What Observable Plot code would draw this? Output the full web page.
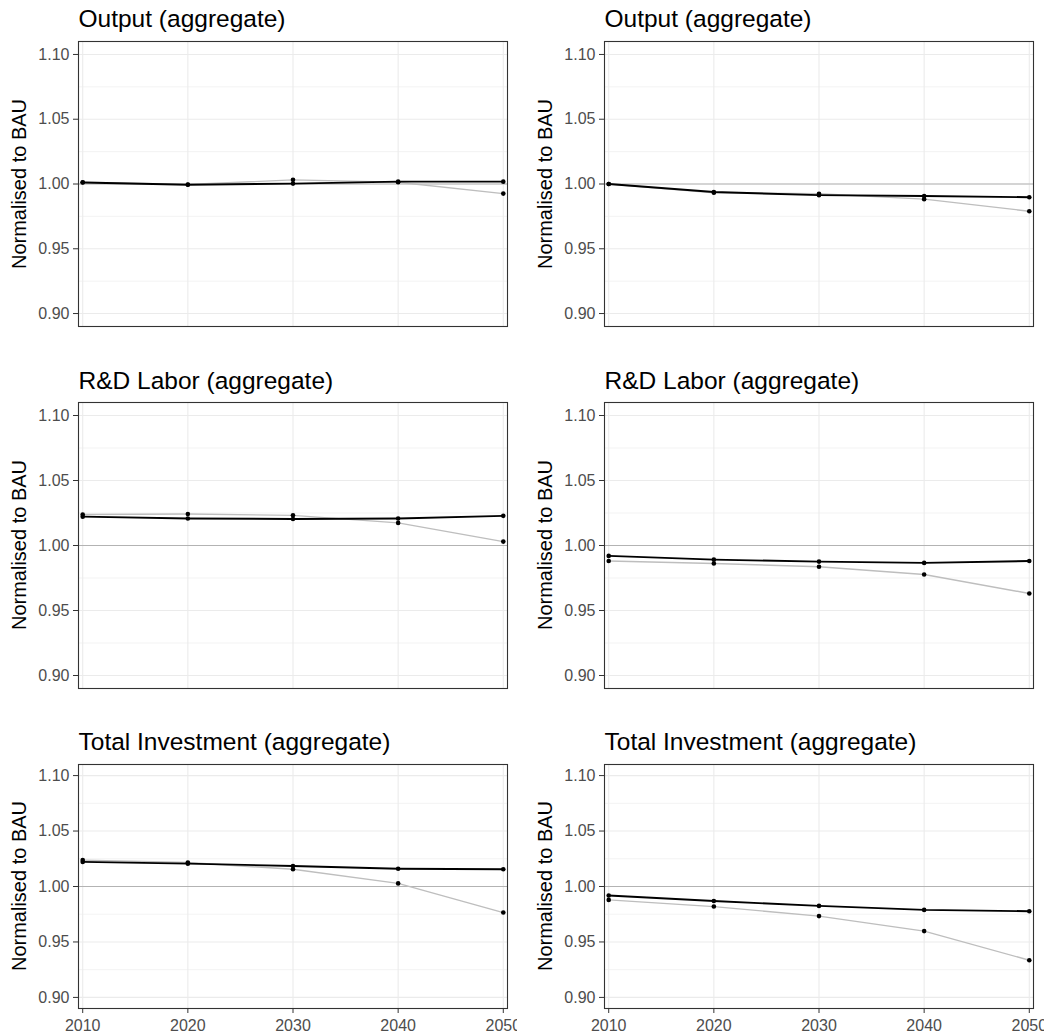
<!DOCTYPE html>
<html>
<head>
<meta charset="utf-8">
<script src="https://cdn.jsdelivr.net/npm/d3@7"></script>
<script src="https://cdn.jsdelivr.net/npm/@observablehq/plot@0.6"></script>
<style>
  html, body { margin: 0; padding: 0; background: white; }
  #root { position: relative; width: 1049px; height: 1036px; overflow: hidden; font-family: "Liberation Sans", Arial, sans-serif; }
  .ttl { position: absolute; font-size: 24.5px; line-height: 24px; color: #000; white-space: nowrap; }
  .ylab { position: absolute; font-size: 20px; line-height: 20px; color: #000; white-space: nowrap; transform: translate(-50%, -50%) rotate(-90deg); }
  .cell { position: absolute; }
</style>
</head>
<body>
<div id="root"></div>
<script>
// ---- data ----
const years = [2010, 2020, 2030, 2040, 2050];
const panelTitles = ["Output (aggregate)", "R&D Labor (aggregate)", "Total Investment (aggregate)"];
const yTicks = [0.90, 0.95, 1.00, 1.05, 1.10];
const yMinorTicks = [0.925, 0.975, 1.025, 1.075];
const yLabel = "Normalised to BAU";

// left column
const outputLeftBlack = [1.0012, 0.9994, 1.0003, 1.0018, 1.0018];
const outputLeftGray  = [1.0013, 0.9996, 1.0032, 1.0013, 0.9926];
const rdLeftBlack     = [1.0222, 1.0208, 1.0204, 1.0208, 1.0228];
const rdLeftGray      = [1.0238, 1.0242, 1.0232, 1.0174, 1.0030];
const invLeftBlack    = [1.0222, 1.0206, 1.0185, 1.0160, 1.0155];
const invLeftGray     = [1.0238, 1.0216, 1.0155, 1.0028, 0.9765];

// right column
const outputRightBlack = [1.0000, 0.9938, 0.9914, 0.9907, 0.9898];
const outputRightGray  = [1.0000, 0.9932, 0.9925, 0.9883, 0.9790];
const rdRightBlack     = [0.9920, 0.9891, 0.9876, 0.9866, 0.9881];
const rdRightGray      = [0.9881, 0.9862, 0.9836, 0.9777, 0.9631];
const invRightBlack    = [0.9919, 0.9869, 0.9825, 0.9789, 0.9777];
const invRightGray     = [0.9879, 0.9819, 0.9733, 0.9598, 0.9335];

const panels = [
  {row: 0, col: 0, title: panelTitles[0], black: outputLeftBlack, gray: outputLeftGray},
  {row: 0, col: 1, title: panelTitles[0], black: outputRightBlack, gray: outputRightGray},
  {row: 1, col: 0, title: panelTitles[1], black: rdLeftBlack, gray: rdLeftGray},
  {row: 1, col: 1, title: panelTitles[1], black: rdRightBlack, gray: rdRightGray},
  {row: 2, col: 0, title: panelTitles[2], black: invLeftBlack, gray: invLeftGray},
  {row: 2, col: 1, title: panelTitles[2], black: invRightBlack, gray: invRightGray}
];

// ---- layout ----
const colLayout = [
  {left: 0,   width: 517, marginLeft: 78, marginRight: 10},
  {left: 526, width: 518, marginLeft: 78, marginRight: 11}
];
const rowLayout = [
  {top: 36,  height: 295, marginTop: 5, marginBottom: 5,  titleTop: 6.5, xAxis: false},
  {top: 397, height: 296, marginTop: 5, marginBottom: 5,  titleTop: 369, xAxis: false},
  {top: 759, height: 277, marginTop: 5, marginBottom: 28, titleTop: 730, xAxis: true}
];

const root = document.getElementById("root");

for (const p of panels) {
  const c = colLayout[p.col], r = rowLayout[p.row];
  const blackData = years.map((year, i) => ({year, value: p.black[i]}));
  const grayData = years.map((year, i) => ({year, value: p.gray[i]}));
  const allData = grayData.concat(blackData);

  const marks = [
    Plot.gridY(yMinorTicks, {stroke: "#ebebeb", strokeOpacity: 1, strokeWidth: 0.6}),
    Plot.gridY(yTicks, {stroke: "#ebebeb", strokeOpacity: 1, strokeWidth: 1.1}),
    Plot.gridX(years, {stroke: "#ebebeb", strokeOpacity: 1, strokeWidth: 1.1}),
    Plot.ruleY([1], {stroke: "#b3b3b3", strokeWidth: 1.1}),
    Plot.lineY(grayData, {x: "year", y: "value", stroke: "#bebebe", strokeWidth: 1.4}),
    Plot.lineY(blackData, {x: "year", y: "value", stroke: "#000", strokeWidth: 1.9}),
    Plot.dot(allData, {x: "year", y: "value", r: 2.3, fill: "#000", stroke: "none"}),
    Plot.frame({stroke: "#333", strokeWidth: 1.1}),
    Plot.axisY({ticks: yTicks, tickFormat: d => d.toFixed(2), tickSize: 5, tickPadding: 4, stroke: "#333", fill: "#4d4d4d", fontSize: 16, label: null})
  ];
  if (r.xAxis) {
    marks.push(Plot.axisX({ticks: years, tickFormat: d => String(d), tickSize: 5, tickPadding: 6, stroke: "#333", fill: "#4d4d4d", fontSize: 16, label: null}));
  }

  const svg = Plot.plot({
    width: c.width,
    height: r.height,
    marginLeft: c.marginLeft,
    marginRight: c.marginRight,
    marginTop: r.marginTop,
    marginBottom: r.marginBottom,
    style: {fontFamily: "'Liberation Sans', Arial, sans-serif", fontSize: "16px", background: "white", overflow: "hidden"},
    x: {domain: [2009.6, 2050.4], axis: null},
    y: {domain: [0.89, 1.11], axis: null},
    marks
  });

  const cell = document.createElement("div");
  cell.className = "cell";
  cell.style.left = c.left + "px";
  cell.style.top = r.top + "px";
  cell.style.width = c.width + "px";
  cell.style.height = r.height + "px";
  cell.appendChild(svg);
  root.appendChild(cell);

  const t = document.createElement("div");
  t.className = "ttl";
  t.textContent = p.title;
  t.style.left = (c.left + c.marginLeft + 0.5) + "px";
  t.style.top = r.titleTop + "px";
  root.appendChild(t);

  const yl = document.createElement("div");
  yl.className = "ylab";
  yl.textContent = yLabel;
  const plotTop = r.top + r.marginTop;
  const plotBottom = r.top + r.height - r.marginBottom;
  yl.style.left = (c.left + 19 + (p.col === 1 ? -0.5 : 0)) + "px";
  yl.style.top = ((plotTop + plotBottom) / 2) + "px";
  root.appendChild(yl);
}
</script>
</body>
</html>
